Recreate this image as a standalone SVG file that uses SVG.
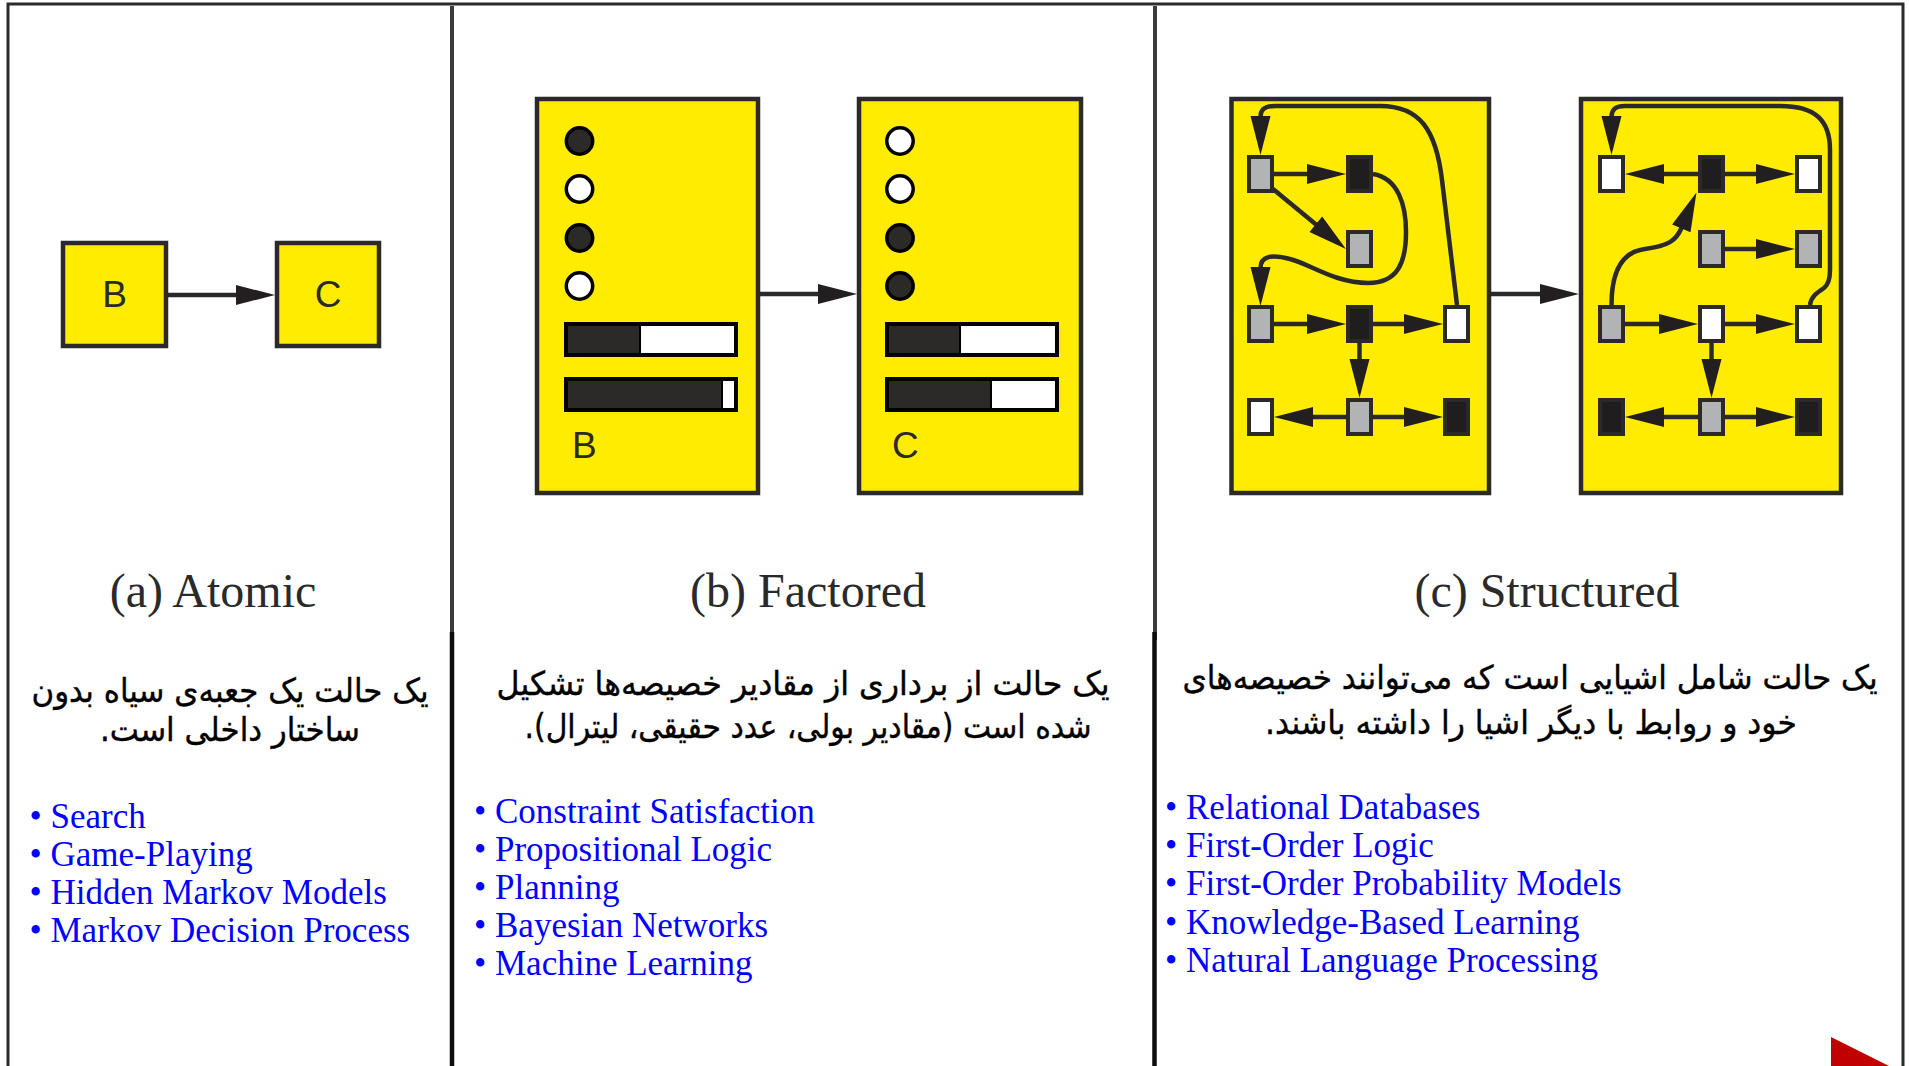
<svg xmlns="http://www.w3.org/2000/svg" width="1909" height="1066" viewBox="0 0 1909 1066">
  <style>
    .frame { fill: none; stroke: #2b2b2b; stroke-width: 3; }
    .div-top { stroke: #3a3a3a; stroke-width: 4; }
    .div-bot { stroke: #0d0d0d; stroke-width: 4.5; }
    .state { fill: #ffec00; stroke: #2b2a29; stroke-width: 4.5; }
    .lbl { font-family: "Liberation Sans", Arial, sans-serif; font-size: 37px; fill: #2b2a29; }
    .title { font-family: "Liberation Serif", "Times New Roman", serif; font-size: 48px; fill: #2a2a2a; text-anchor: middle; }
    .fa { font-family: "DejaVu Sans", sans-serif; font-size: 33px; fill: #000; stroke: #000; stroke-width: 0.4; text-anchor: middle; }
    .list { font-family: "Liberation Serif", "Times New Roman", serif; font-size: 35px; fill: #0000ff; }
    .dot-on { fill: #2b2a29; stroke: #000; stroke-width: 3.5; }
    .dot-off { fill: #fff; stroke: #000; stroke-width: 3.5; }
    .bar { fill: #fff; stroke: #000; stroke-width: 4; }
    .bar-fill { fill: #2b2a29; stroke: #000; stroke-width: 2; }
    .n { stroke: #2b2a29; stroke-width: 4; }
    .gray { fill: #b2b3b5; }
    .black { fill: #1f1d1e; }
    .white { fill: #fff; }
    .edge { fill: none; stroke: #2b2a29; stroke-width: 4.5; marker-end: url(#head); }
  </style>
  <defs>
    <marker id="head" markerUnits="userSpaceOnUse" viewBox="-2 -11 42 22" markerWidth="42" markerHeight="22" refX="0" refY="0" orient="auto">
      <path d="M-1,-10 L38,0 L-1,10 z" fill="#231f20"/>
    </marker>
  </defs>

  <rect width="1909" height="1066" fill="#fff"/>

  <!-- outer frame and column dividers -->
  <g id="frame">
    <path class="frame" d="M8,1066 V4 H1903 V1066"/>
    <line class="div-top" x1="452" y1="6" x2="452" y2="640"/>
    <line class="div-bot" x1="452" y1="632" x2="452" y2="1066"/>
    <line class="div-top" x1="1155" y1="6" x2="1155" y2="640"/>
    <line class="div-bot" x1="1154.5" y1="632" x2="1154.5" y2="1066"/>
  </g>

  <!-- (a) atomic states -->
  <g id="atomic-B">
    <rect class="state" x="63" y="243" width="103" height="103"/>
    <text class="lbl" x="114.5" y="307" text-anchor="middle">B</text>
  </g>
  <g id="atomic-C">
    <rect class="state" x="277" y="243" width="102" height="103"/>
    <text class="lbl" x="328" y="307" text-anchor="middle">C</text>
  </g>

  <!-- (b) factored states -->
  <g id="factored-B">
    <rect class="state" x="537" y="99" width="221" height="394"/>
    <circle class="dot-on" cx="579.5" cy="141" r="13.2"/>
    <circle class="dot-off" cx="579.5" cy="189" r="13.2"/>
    <circle class="dot-on" cx="579.5" cy="238" r="13.2"/>
    <circle class="dot-off" cx="579.5" cy="286" r="13.2"/>
    <rect class="bar" x="566" y="324" width="170" height="31"/>
    <rect class="bar-fill" x="567" y="325" width="73" height="29"/>
    <rect class="bar" x="566" y="379" width="170" height="31"/>
    <rect class="bar-fill" x="567" y="380" width="155" height="29"/>
    <text class="lbl" x="572" y="458">B</text>
  </g>
  <g id="factored-C">
    <rect class="state" x="859" y="99" width="222" height="394"/>
    <circle class="dot-off" cx="900" cy="141" r="13.2"/>
    <circle class="dot-off" cx="900" cy="189" r="13.2"/>
    <circle class="dot-on" cx="900" cy="238" r="13.2"/>
    <circle class="dot-on" cx="900" cy="286" r="13.2"/>
    <rect class="bar" x="887" y="324" width="170" height="31"/>
    <rect class="bar-fill" x="888" y="325" width="72" height="29"/>
    <rect class="bar" x="887" y="379" width="170" height="31"/>
    <rect class="bar-fill" x="888" y="380" width="103" height="29"/>
    <text class="lbl" x="892" y="458">C</text>
  </g>

  <!-- (c) structured states -->
  <g id="structured-B">
    <rect class="state" x="1231.5" y="99" width="257.5" height="394"/>
    <rect id="sb-1" class="n gray" x="1249" y="157" width="23" height="34"/>
    <rect id="sb-2" class="n black" x="1348" y="157" width="23" height="34"/>
    <rect id="sb-3" class="n gray" x="1348" y="232" width="23" height="34"/>
    <rect id="sb-4" class="n gray" x="1249" y="307" width="23" height="34"/>
    <rect id="sb-5" class="n black" x="1348" y="307" width="23" height="34"/>
    <rect id="sb-6" class="n white" x="1445" y="307" width="23" height="34"/>
    <rect id="sb-7" class="n white" x="1249" y="400" width="23" height="34"/>
    <rect id="sb-8" class="n gray" x="1348" y="400" width="23" height="34"/>
    <rect id="sb-9" class="n black" x="1445" y="400" width="23" height="34"/>
  </g>
  <g id="structured-C">
    <rect class="state" x="1581" y="99" width="260" height="394"/>
    <rect id="sc-1" class="n white" x="1600" y="157" width="23" height="34"/>
    <rect id="sc-2" class="n black" x="1700" y="157" width="23" height="34"/>
    <rect id="sc-3" class="n white" x="1797" y="157" width="23" height="34"/>
    <rect id="sc-4" class="n gray" x="1700" y="232" width="23" height="34"/>
    <rect id="sc-5" class="n gray" x="1797" y="232" width="23" height="34"/>
    <rect id="sc-6" class="n gray" x="1600" y="307" width="23" height="34"/>
    <rect id="sc-7" class="n white" x="1700" y="307" width="23" height="34"/>
    <rect id="sc-8" class="n white" x="1797" y="307" width="23" height="34"/>
    <rect id="sc-9" class="n black" x="1600" y="400" width="23" height="34"/>
    <rect id="sc-10" class="n gray" x="1700" y="400" width="23" height="34"/>
    <rect id="sc-11" class="n black" x="1797" y="400" width="23" height="34"/>
  </g>

  <!-- connectors: each path stops at the arrowhead base, the marker draws the head forward -->
  <g id="connectors">
    <path class="edge" d="M168,295 H237"/>
    <path class="edge" d="M760,294 H819"/>
    <path class="edge" d="M1491,294 H1541"/>

    <path class="edge" d="M1274,174 H1308"/>
    <path class="edge" d="M1273,189 L1316.6,224.9"/>
    <path class="edge" d="M1274,324 H1308"/>
    <path class="edge" d="M1373,324 H1405"/>
    <path class="edge" d="M1359.5,343 V360"/>
    <path class="edge" d="M1346,417 H1312"/>
    <path class="edge" d="M1373,417 H1405"/>
    <path class="edge" d="M1373,174 C1398,178 1406,205 1406,232 C1406,262 1398,283 1368,283 C1335,283 1310,264 1290,259 C1272,254 1260.5,256 1260.5,268"/>
    <path class="edge" d="M1457,305 L1442,180 C1436,130 1420,106 1380,106 L1275,106 C1264,106 1260.5,110 1260.5,117"/>

    <path class="edge" d="M1698,174 H1663"/>
    <path class="edge" d="M1725,174 H1757"/>
    <path class="edge" d="M1725,249 H1757"/>
    <path class="edge" d="M1625,324 H1660"/>
    <path class="edge" d="M1725,324 H1757"/>
    <path class="edge" d="M1711.5,343 V360"/>
    <path class="edge" d="M1698,417 H1663"/>
    <path class="edge" d="M1725,417 H1757"/>
    <path class="edge" d="M1611.5,305 C1611.5,275 1620,252 1645,249 C1668,246 1676,241 1681.7,227.5"/>
    <path class="edge" d="M1810,305 C1811,296 1818,292 1824,288 C1829,284 1830,278 1830,270 L1830,150 C1830,120 1815,106 1780,106 L1625,106 C1615,106 1611.5,110 1611.5,117"/>
  </g>

  <!-- captions -->
  <g id="captions">
    <text class="title" x="213" y="607">(a) Atomic</text>
    <text class="title" x="808" y="607">(b) Factored</text>
    <text class="title" x="1547" y="607">(c) Structured</text>

    <text class="fa" direction="rtl" x="230" y="702" textLength="397" lengthAdjust="spacingAndGlyphs">یک حالت یک جعبه&#x200C;ی سیاه بدون</text>
    <text class="fa" direction="rtl" x="230" y="741" textLength="260" lengthAdjust="spacingAndGlyphs">ساختار داخلی است.</text>

    <text class="fa" direction="rtl" x="803" y="695" textLength="613" lengthAdjust="spacingAndGlyphs">یک حالت از برداری از مقادیر خصیصه&#x200C;ها تشکیل</text>
    <text class="fa" direction="rtl" x="808" y="738" textLength="567" lengthAdjust="spacingAndGlyphs">شده است (مقادیر بولی، عدد حقیقی، لیترال).</text>

    <!-- long line: narrowed with a horizontal scale so its layout box stays inside the frame -->
    <g transform="translate(1530,689) scale(0.88,1)">
      <text class="fa" direction="rtl" x="0" y="0" textLength="790" lengthAdjust="spacingAndGlyphs">یک حالت شامل اشیایی است که می&#x200C;توانند خصیصه&#x200C;های</text>
    </g>
    <text class="fa" direction="rtl" x="1531" y="734" textLength="532" lengthAdjust="spacingAndGlyphs">خود و روابط با دیگر اشیا را داشته باشند.</text>
  </g>

  <!-- example lists -->
  <g id="list-atomic" class="list">
    <text x="29.5" y="828">• Search</text>
    <text x="29.5" y="866">• Game-Playing</text>
    <text x="29.5" y="904">• Hidden Markov Models</text>
    <text x="29.5" y="942">• Markov Decision Process</text>
  </g>
  <g id="list-factored" class="list">
    <text x="474" y="823">• Constraint Satisfaction</text>
    <text x="474" y="861">• Propositional Logic</text>
    <text x="474" y="899">• Planning</text>
    <text x="474" y="937">• Bayesian Networks</text>
    <text x="474" y="975">• Machine Learning</text>
  </g>
  <g id="list-structured" class="list">
    <text x="1165" y="819">• Relational Databases</text>
    <text x="1165" y="857">• First-Order Logic</text>
    <text x="1165" y="895">• First-Order Probability Models</text>
    <text x="1165" y="934">• Knowledge-Based Learning</text>
    <text x="1165" y="972">• Natural Language Processing</text>
  </g>

  <!-- page-turn marker -->
  <polygon points="1831,1037 1901,1072 1831,1107" fill="#c00000"/>
</svg>
